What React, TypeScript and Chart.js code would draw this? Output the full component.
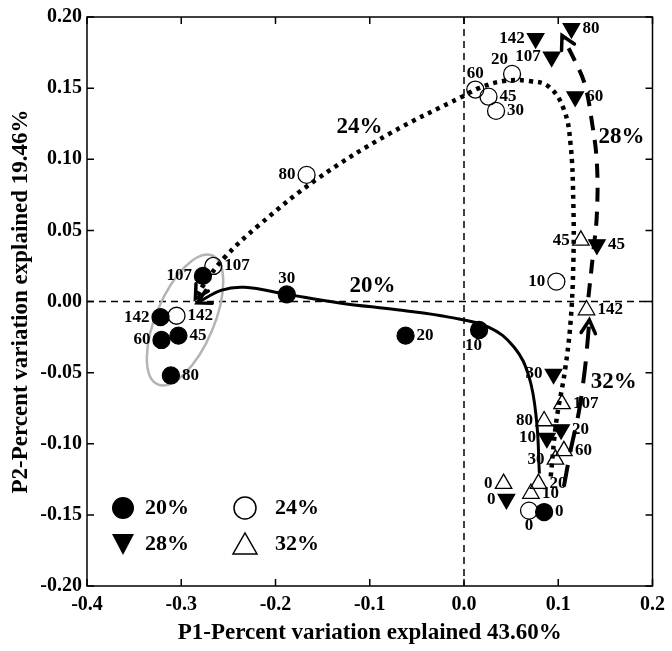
import React, { useEffect, useRef } from 'react';
import { Chart, registerables } from 'chart.js';

Chart.register(...registerables);

// ---------------- data ----------------
const sampleLabels = ['0', '10', '20', '30', '45', '60', '80', '107', '142'];

const series20X = [0.085, 0.016, -0.062, -0.188, -0.303, -0.321, -0.311, -0.277, -0.322];
const series20Y = [-0.148, -0.020, -0.024, 0.005, -0.024, -0.027, -0.052, 0.018, -0.011];
const series24X = [0.069, 0.098, 0.051, 0.034, 0.026, 0.012, -0.167, -0.266, -0.305];
const series24Y = [-0.147, 0.014, 0.160, 0.134, 0.144, 0.149, 0.089, 0.025, -0.010];
const series28X = [0.045, 0.088, 0.103, 0.095, 0.141, 0.118, 0.114, 0.093, 0.076];
const series28Y = [-0.139, -0.096, -0.090, -0.051, 0.040, 0.144, 0.192, 0.172, 0.185];
const series32X = [0.042, 0.071, 0.079, 0.097, 0.124, 0.106, 0.085, 0.104, 0.130];
const series32Y = [-0.128, -0.135, -0.128, -0.111, 0.043, -0.105, -0.084, -0.072, -0.006];

const seriesNames = ['20%', '24%', '28%', '32%'];

const xTickValues = [-0.4, -0.3, -0.2, -0.1, 0.0, 0.1, 0.2];
const yTickValues = [-0.2, -0.15, -0.1, -0.05, 0, 0.05, 0.1, 0.15, 0.2];

// trajectory arrows (data units)
const trend20X = [0.080, 0.077, 0.069, 0.053, 0.026, -0.016, -0.069, -0.132, -0.188, -0.233, -0.257, -0.283];
const trend20Y = [-0.121, -0.084, -0.053, -0.032, -0.018, -0.011, -0.006, -0.001, 0.005, 0.010, 0.008, -0.001];
const trend24X = [0.092, 0.098, 0.107, 0.113, 0.116, 0.116, 0.113, 0.106, 0.090, 0.069, 0.042, 0.016, -0.002, -0.079, -0.156, -0.217, -0.254, -0.275, -0.285];
const trend24Y = [-0.123, -0.084, -0.049, -0.015, 0.027, 0.069, 0.111, 0.135, 0.151, 0.155, 0.155, 0.150, 0.144, 0.118, 0.086, 0.054, 0.031, 0.013, 0.002];
const trend28X = [0.132, 0.137, 0.141, 0.141, 0.136, 0.128, 0.117, 0.104];
const trend28Y = [0.003, 0.034, 0.062, 0.097, 0.125, 0.153, 0.170, 0.187];
const trend32X = [0.106, 0.113, 0.122, 0.128, 0.131, 0.133];
const trend32Y = [-0.130, -0.105, -0.077, -0.049, -0.029, -0.013];

// trajectory text labels (data units), in seriesNames order
const trendLabelX = [-0.097, -0.111, 0.167, 0.159];
const trendLabelY = [0.011, 0.1226, 0.1157, -0.0564];

// grey ellipse around the late 20% / 24% samples
const ellipseCenterX = -0.296;
const ellipseCenterY = -0.013;

// ---------------- styles ----------------
const FONT = "'Liberation Serif', 'Times New Roman', serif";
const labelSides = [
  ['r', 'bl', 'r', 't', 'r', 'l', 'r', 'l', 'l'],
  ['b', 'l', 'tl', 'r', 'r', 't', 'l', 'r', 'r'],
  ['l', 'l', 'r', 'l', 'r', 'r', 'r', 'l', 'l'],
  ['l', 'r', 'r', 'l', 'l', 'r', 'l', 'r', 'r'],
];

const toPts = (xs: number[], ys: number[]) => xs.map((x, i) => ({ x, y: ys[i] }));

const sideOffset: Record<string, [number, number, CanvasTextAlign]> = {
  r: [11, 0, 'left'],
  l: [-11, 0, 'right'],
  t: [0, -16, 'center'],
  b: [0, 15, 'center'],
  tl: [-4, -14, 'right'],
  bl: [3, 16, 'right'],
};

const decorPlugin = {
  id: 'decor',
  beforeDatasetsDraw(chart: any) {
    const { ctx, chartArea: ca, scales } = chart;
    const xs = scales.x, ys = scales.y;
    ctx.save();
    // zero lines
    ctx.strokeStyle = '#000';
    ctx.lineWidth = 1.5;
    ctx.setLineDash([7, 5]);
    const x0 = xs.getPixelForValue(0);
    const y0 = ys.getPixelForValue(0);
    ctx.beginPath();
    ctx.moveTo(x0, ca.top);
    ctx.lineTo(x0, ca.bottom);
    ctx.moveTo(ca.left, y0);
    ctx.lineTo(ca.right, y0);
    ctx.stroke();
    ctx.setLineDash([]);
    // ellipse
    ctx.strokeStyle = '#b4b4b4';
    ctx.lineWidth = 2.5;
    ctx.beginPath();
    ctx.ellipse(xs.getPixelForValue(ellipseCenterX), ys.getPixelForValue(ellipseCenterY), 29, 70, 0.4, 0, Math.PI * 2);
    ctx.stroke();
    ctx.restore();
  },
  afterDatasetsDraw(chart: any) {
    const { ctx, chartArea: ca, scales } = chart;
    const xs = scales.x, ys = scales.y;
    ctx.save();
    // arrowheads on trend lines (datasets 4..7)
    for (let d = 4; d < 8; d++) {
      const meta = chart.getDatasetMeta(d);
      const n = meta.data.length;
      const tip = meta.data[n - 1];
      const prev = meta.data[n - 2];
      const ang = Math.atan2(tip.y - prev.y, tip.x - prev.x);
      const L = 15;
      const spread = 0.5;
      ctx.strokeStyle = '#000';
      ctx.lineWidth = 3.5;
      ctx.lineCap = 'round';
      ctx.setLineDash([]);
      ctx.beginPath();
      ctx.moveTo(tip.x - L * Math.cos(ang - spread), tip.y - L * Math.sin(ang - spread));
      ctx.lineTo(tip.x, tip.y);
      ctx.lineTo(tip.x - L * Math.cos(ang + spread), tip.y - L * Math.sin(ang + spread));
      ctx.stroke();
    }
    // point labels
    ctx.fillStyle = '#000';
    ctx.font = `bold 17px ${FONT}`;
    ctx.textBaseline = 'middle';
    for (let d = 0; d < 4; d++) {
      const meta = chart.getDatasetMeta(d);
      meta.data.forEach((el: any, j: number) => {
        const [dx, dy, align] = sideOffset[labelSides[d][j]];
        ctx.textAlign = align;
        ctx.fillText(sampleLabels[j], el.x + dx, el.y + dy);
      });
    }
    // trend labels
    ctx.font = `bold 23px ${FONT}`;
    ctx.textAlign = 'center';
    for (let i = 0; i < 4; i++) {
      ctx.fillText(seriesNames[i], xs.getPixelForValue(trendLabelX[i]), ys.getPixelForValue(trendLabelY[i]));
    }
    // legend
    const lx1 = 123, lx2 = 245, ly1 = 508, ly2 = 544;
    ctx.lineWidth = 1.5;
    ctx.strokeStyle = '#000';
    ctx.beginPath();
    ctx.arc(lx1, ly1, 11, 0, Math.PI * 2);
    ctx.fill();
    ctx.beginPath();
    ctx.arc(lx2, ly1, 11, 0, Math.PI * 2);
    ctx.stroke();
    ctx.beginPath();
    ctx.moveTo(lx1 - 11, ly2 - 10);
    ctx.lineTo(lx1 + 11, ly2 - 10);
    ctx.lineTo(lx1, ly2 + 11);
    ctx.closePath();
    ctx.fill();
    ctx.beginPath();
    ctx.moveTo(lx2 - 12, ly2 + 10);
    ctx.lineTo(lx2 + 12, ly2 + 10);
    ctx.lineTo(lx2, ly2 - 11);
    ctx.closePath();
    ctx.stroke();
    ctx.font = `bold 22px ${FONT}`;
    ctx.textAlign = 'left';
    ctx.fillText(seriesNames[0], 145, ly1);
    ctx.fillText(seriesNames[1], 275, ly1);
    ctx.fillText(seriesNames[2], 145, ly2);
    ctx.fillText(seriesNames[3], 275, ly2);
    ctx.restore();
  },
  afterDraw(chart: any) {
    const { ctx, chartArea: ca, scales } = chart;
    const xs = scales.x, ys = scales.y;
    ctx.save();
    ctx.strokeStyle = '#000';
    ctx.lineWidth = 1.5;
    ctx.setLineDash([]);
    ctx.strokeRect(ca.left, ca.top, ca.right - ca.left, ca.bottom - ca.top);
    const T = 7;
    ctx.beginPath();
    xTickValues.forEach((v) => {
      const px = xs.getPixelForValue(v);
      ctx.moveTo(px, ca.bottom);
      ctx.lineTo(px, ca.bottom - T);
      ctx.moveTo(px, ca.top);
      ctx.lineTo(px, ca.top + T);
    });
    yTickValues.forEach((v) => {
      const py = ys.getPixelForValue(v);
      ctx.moveTo(ca.left, py);
      ctx.lineTo(ca.left + T, py);
      ctx.moveTo(ca.right, py);
      ctx.lineTo(ca.right - T, py);
    });
    ctx.stroke();
    ctx.restore();
  },
};

export default function App() {
  const canvasRef = useRef<HTMLCanvasElement | null>(null);

  useEffect(() => {
    const canvas = canvasRef.current;
    if (!canvas) return;

    const open = 'rgba(0,0,0,0)';
    const pointSets = [
      { x: series20X, y: series20Y, style: 'circle', r: 8.5, fill: '#000', rot: 0 },
      { x: series24X, y: series24Y, style: 'circle', r: 8.5, fill: open, rot: 0 },
      { x: series28X, y: series28Y, style: 'triangle', r: 9.5, fill: '#000', rot: 180 },
      { x: series32X, y: series32Y, style: 'triangle', r: 9.5, fill: open, rot: 0 },
    ];
    const trendSets = [
      { x: trend20X, y: trend20Y, dash: [] as number[], w: 3 },
      { x: trend24X, y: trend24Y, dash: [4, 5], w: 4.5 },
      { x: trend28X, y: trend28Y, dash: [14, 10], w: 4 },
      { x: trend32X, y: trend32Y, dash: [22, 13], w: 4 },
    ];

    const datasets: any[] = [
      ...pointSets.map((s, i) => ({
        label: seriesNames[i],
        data: toPts(s.x, s.y),
        pointStyle: s.style,
        pointRadius: s.r,
        pointRotation: s.rot,
        backgroundColor: s.fill,
        borderColor: '#000',
        borderWidth: 1.3,
        showLine: false,
        order: 1,
      })),
      ...trendSets.map((s, i) => ({
        label: seriesNames[i] + ' trend',
        data: toPts(s.x, s.y),
        showLine: true,
        pointRadius: 0,
        borderColor: '#000',
        borderWidth: s.w,
        borderDash: s.dash,
        borderCapStyle: 'butt',
        tension: 0.4,
        fill: false,
        order: 2,
      })),
    ];

    const tickFont = { family: FONT, size: 20, weight: 'bold' as const };
    const titleFont = { family: FONT, size: 23, weight: 'bold' as const };

    const chart = new Chart(canvas, {
      type: 'scatter',
      data: { datasets },
      options: {
        responsive: false,
        animation: false,
        events: [],
        layout: { padding: { top: 12, right: 18, left: 0, bottom: 0 } },
        plugins: { legend: { display: false }, tooltip: { enabled: false } },
        scales: {
          x: {
            type: 'linear',
            min: -0.4,
            max: 0.2,
            afterBuildTicks: (s: any) => {
              s.ticks = xTickValues.map((v) => ({ value: v }));
            },
            afterFit: (s: any) => {
              s.height = 65;
            },
            grid: { display: false, drawTicks: false },
            border: { display: false },
            ticks: {
              autoSkip: false,
              maxRotation: 0,
              padding: 7,
              color: '#000',
              font: tickFont,
              callback: (v: any) => Number(v).toFixed(1),
            },
            title: {
              display: true,
              text: 'P1-Percent variation explained 43.60%',
              color: '#000',
              font: titleFont,
              padding: { top: 0, bottom: 4 },
            },
          },
          y: {
            type: 'linear',
            min: -0.2,
            max: 0.2,
            afterBuildTicks: (s: any) => {
              s.ticks = yTickValues.map((v) => ({ value: v }));
            },
            afterFit: (s: any) => {
              s.width = 87;
            },
            grid: { display: false, drawTicks: false },
            border: { display: false },
            ticks: {
              autoSkip: false,
              padding: 5,
              color: '#000',
              font: tickFont,
              callback: (v: any) => Number(v).toFixed(2),
            },
            title: {
              display: true,
              text: 'P2-Percent variation explained 19.46%',
              color: '#000',
              font: titleFont,
              padding: { top: 7, bottom: 0 },
            },
          },
        },
      },
      plugins: [decorPlugin],
    } as any);

    return () => {
      chart.destroy();
    };
  }, []);

  return (
    <div style={{ position: 'fixed', left: 0, top: 0, width: 672, height: 651, background: '#fff' }}>
      <canvas ref={canvasRef} width={672} height={651} />
    </div>
  );
}
